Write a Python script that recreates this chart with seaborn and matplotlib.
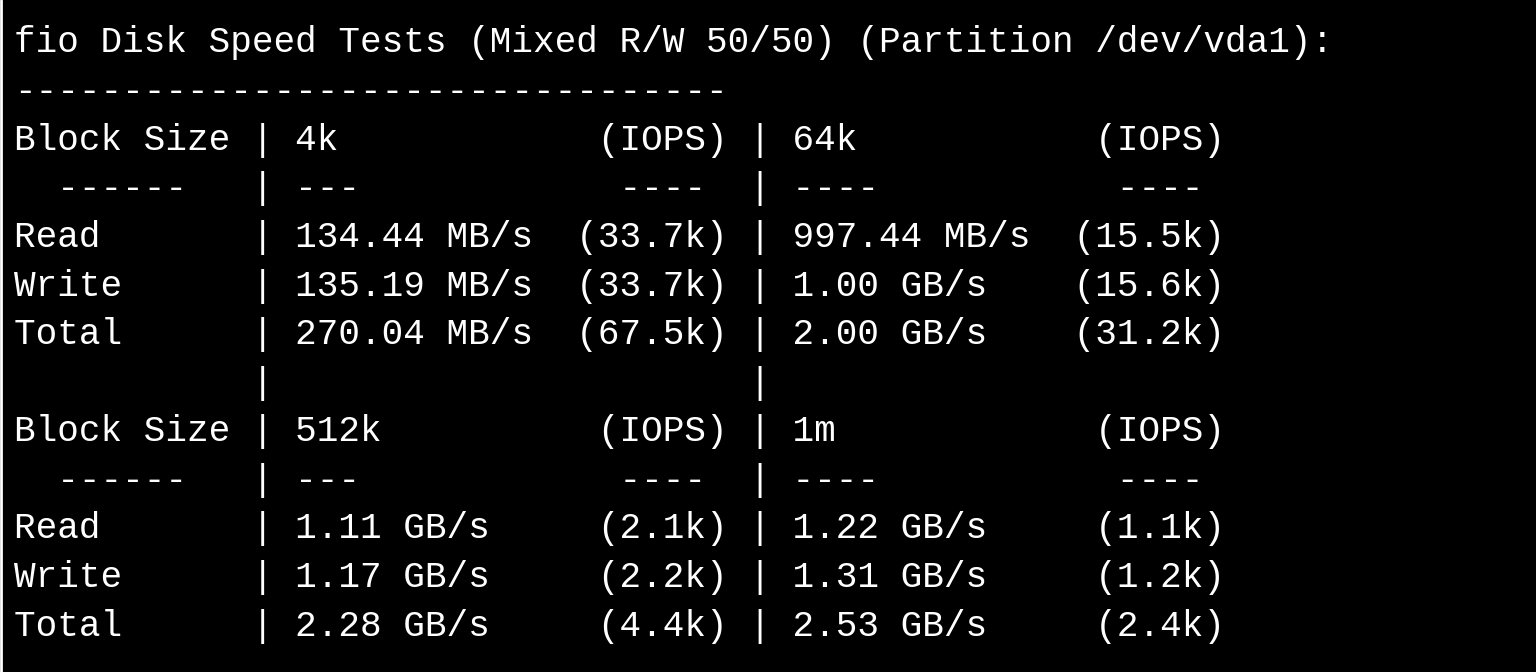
import matplotlib
matplotlib.use("Agg")
import matplotlib.pyplot as plt
import seaborn as sns

sns.set_theme(style="dark")
plt.rcParams['font.family'] = ['Liberation Mono', 'DejaVu Sans Mono']

title = "fio Disk Speed Tests (Mixed R/W 50/50) (Partition /dev/vda1):"
block_sizes = [["4k", "64k"], ["512k", "1m"]]
row_labels = ["Read", "Write", "Total"]
speeds = [
    [["134.44 MB/s", "135.19 MB/s", "270.04 MB/s"], ["997.44 MB/s", "1.00 GB/s", "2.00 GB/s"]],
    [["1.11 GB/s", "1.17 GB/s", "2.28 GB/s"], ["1.22 GB/s", "1.31 GB/s", "2.53 GB/s"]],
]
iops = [
    [["(33.7k)", "(33.7k)", "(67.5k)"], ["(15.5k)", "(15.6k)", "(31.2k)"]],
    [["(2.1k)", "(2.2k)", "(4.4k)"], ["(1.1k)", "(1.2k)", "(2.4k)"]],
]

lines = [title, "-" * 33]
for g in range(2):
    a, b = block_sizes[g]
    lines.append("%-10s | %-11s %8s | %-11s %8s" % ("Block Size", a, "(IOPS)", b, "(IOPS)"))
    lines.append("%-10s | %-11s %8s | %-11s %8s" % ("  ------", "---", "---- ", "----", "---- "))
    for r, lab in enumerate(row_labels):
        lines.append("%-10s | %-11s %8s | %-11s %8s" % (lab, speeds[g][0][r], iops[g][0][r],
                                                      speeds[g][1][r], iops[g][1][r]))
    if g == 0:
        lines.append("%-10s | %-11s %8s | " % ("", "", ""))

fig = plt.figure(figsize=(15.36, 6.72), dpi=100, facecolor="black")
ax = fig.add_axes([0, 0, 1, 1])
ax.set_facecolor("black")
ax.set_xlim(0, 1536)
ax.set_ylim(672, 0)
ax.axis("off")
y0, dy = 43, 48.6
for i, line in enumerate(lines):
    ax.text(14, y0 + i * dy, line, color="white", fontsize=25.9, va="center", ha="left")
ax.plot([1, 1], [0, 672], color="white", lw=2)
fig.savefig("out.png", dpi=100, facecolor="black")
